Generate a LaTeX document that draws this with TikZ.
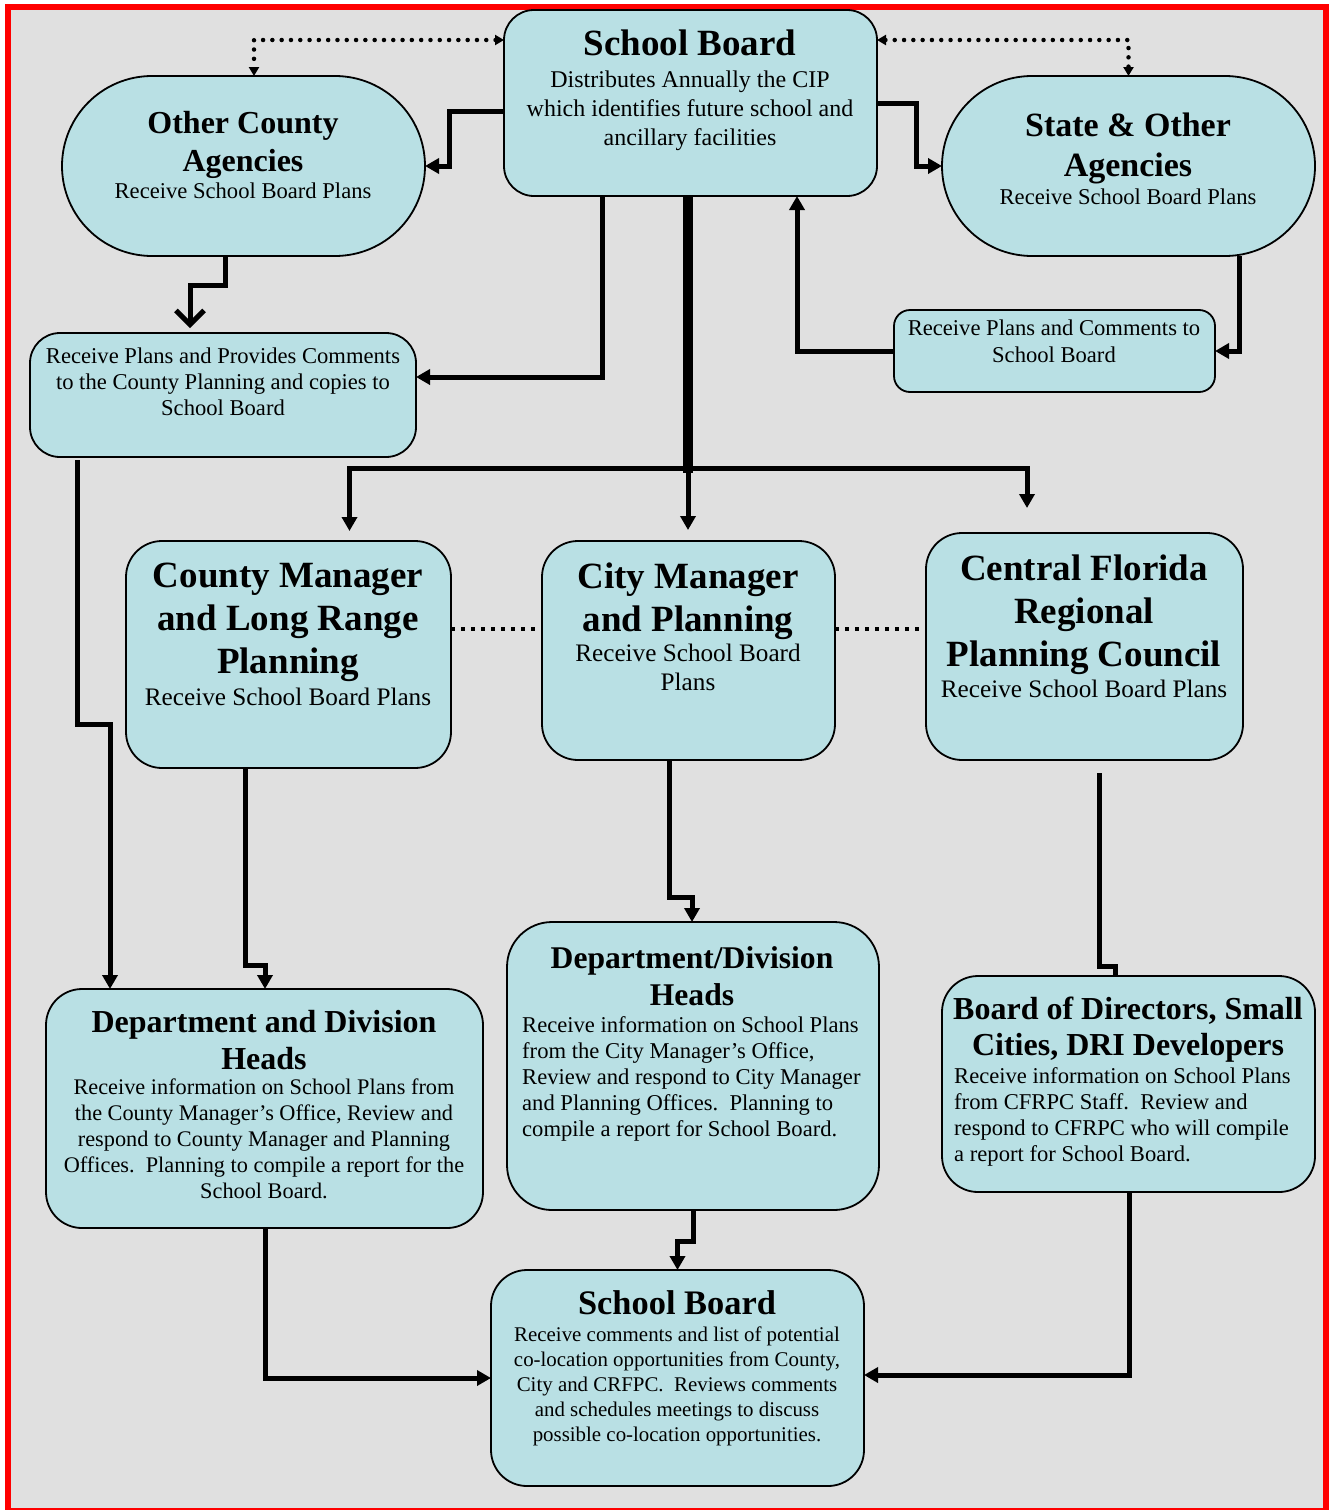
\documentclass[tikz,border=0pt]{standalone}
\usepackage{fontspec}
\setmainfont{Liberation Serif}
\usetikzlibrary{arrows.meta,calc}
\definecolor{boxfill}{RGB}{185,224,228}
\definecolor{bggray}{RGB}{224,224,224}
\begin{document}
\begin{tikzpicture}[x=1pt,y=-1pt,
  box/.style={draw=black, line width=1.8pt, fill=boxfill, anchor=north west, inner sep=0pt, outer sep=0pt},
  ttl/.style={align=center, inner sep=0pt, anchor=north},
  bdy/.style={align=center, inner sep=0pt, anchor=north},
  bdyl/.style={align=left, inner sep=0pt, anchor=north west},
  conn/.style={line width=5pt, -{Triangle[width=15pt,length=14pt]}},
  plain/.style={line width=5pt},
  trunk/.style={line width=10pt},
  varr/.style={line width=5pt, -{Straight Barb[width=28pt,length=14pt]}},
  dotarr/.style={line width=4.5pt, dash pattern=on 0pt off 9.3pt, line cap=round,
    {Triangle[width=10pt,length=9pt]}-{Triangle[width=10pt,length=9pt]}},
  dotline/.style={line width=4pt, dash pattern=on 4pt off 6pt}
]
\useasboundingbox (0,0) rectangle (1328,1510);
\fill[white] (0,0) rectangle (1328,1510);
\fill[bggray] (8,7) rectangle (1326,1511);
\draw[red, line width=6pt] (8,7) rectangle (1326,1511);

% boxes
\node[box, rounded corners=30pt, minimum width=373pt, minimum height=186pt] (sb1) at (504,10) {};
\node[box, rounded corners=90pt, minimum width=363pt, minimum height=180pt] (oca) at (62,76) {};
\node[box, rounded corners=90pt, minimum width=373pt, minimum height=180pt] (soa) at (942,76) {};
\node[box, rounded corners=30pt, minimum width=386pt, minimum height=124pt] (rpc) at (30,333) {};
\node[box, rounded corners=16pt, minimum width=321pt, minimum height=82pt] (rpcs) at (894,310) {};
\node[box, rounded corners=36pt, minimum width=325pt, minimum height=227pt] (cm) at (126,541) {};
\node[box, rounded corners=36pt, minimum width=293pt, minimum height=219pt] (cim) at (542,541) {};
\node[box, rounded corners=36pt, minimum width=317pt, minimum height=227pt] (cf) at (926,533) {};
\node[box, rounded corners=36pt, minimum width=437pt, minimum height=239pt] (ddh) at (46,989) {};
\node[box, rounded corners=45pt, minimum width=372pt, minimum height=288pt] (dd2) at (507,922) {};
\node[box, rounded corners=36pt, minimum width=373pt, minimum height=216pt] (bod) at (942,976) {};
\node[box, rounded corners=36pt, minimum width=373pt, minimum height=216pt] (sb2) at (491,1270) {};

% texts
\node[ttl, font=\fontsize{37}{43}\selectfont\bfseries] (sb1t) at (690,30) {School Board};
\node[bdy, font=\fontsize{24}{29}\selectfont] (sb1b) at (690,70.6) {Distributes Annually the CIP\\which identifies future school and\\ancillary facilities};

\node[ttl, font=\fontsize{32}{38}\selectfont\bfseries] (ocat) at (243,111) {Other County\\Agencies};
\node[bdy, font=\fontsize{22.6}{26}\selectfont] (ocab) at (243,183) {Receive School Board Plans};

\node[ttl, font=\fontsize{34}{40}\selectfont\bfseries] (soat) at (1128,113) {State \& Other\\Agencies};
\node[bdy, font=\fontsize{22.6}{26}\selectfont] (soab) at (1128,189) {Receive School Board Plans};

\node[bdy, font=\fontsize{22.6}{26}\selectfont] (rpcb) at (223,348) {Receive Plans and Provides Comments\\to the County Planning and copies to\\School Board};
\node[bdy, font=\fontsize{22.6}{27}\selectfont] (rpcsb) at (1054,320) {Receive Plans and Comments to\\School Board};

\node[ttl, font=\fontsize{37}{43}\selectfont\bfseries] (cmt) at (288,563) {County Manager\\and Long Range\\Planning};
\node[bdy, font=\fontsize{25.2}{29}\selectfont] (cmb) at (288,688) {Receive School Board Plans};

\node[ttl, font=\fontsize{37}{43}\selectfont\bfseries] (cimt) at (688,563) {City Manager\\and Planning};
\node[bdy, font=\fontsize{25.2}{29}\selectfont] (cimb) at (688,644) {Receive School Board\\Plans};

\node[ttl, font=\fontsize{37}{43}\selectfont\bfseries] (cft) at (1084,555) {Central Florida\\Regional\\Planning Council};
\node[bdy, font=\fontsize{25.2}{29}\selectfont] (cfb) at (1084,680) {Receive School Board Plans};

\node[ttl, font=\fontsize{32}{37}\selectfont\bfseries] (ddht) at (264,1010) {Department and Division\\Heads};
\node[bdy, font=\fontsize{22.3}{26}\selectfont] (ddhb) at (264,1079) {Receive information on School Plans from\\the County Manager’s Office, Review and\\respond to County Manager and Planning\\Offices.\ \ Planning to compile a report for the\\School Board.};

\node[ttl, font=\fontsize{31.6}{37}\selectfont\bfseries] (dd2t) at (692,946) {Department/Division\\Heads};
\node[bdyl, font=\fontsize{22.6}{26}\selectfont] (dd2b) at (522,1016) {Receive information on School Plans\\from the City Manager’s Office,\\Review and respond to City Manager\\and Planning Offices.\ \ Planning to\\compile a report for School Board.};

\node[ttl, font=\fontsize{32}{36}\selectfont\bfseries] (bodt) at (1128,997) {Board of Directors, Small\\Cities, DRI Developers};
\node[bdyl, font=\fontsize{22.6}{26}\selectfont] (bodb) at (954,1067) {Receive information on School Plans\\from CFRPC Staff.\ \ Review and\\respond to CFRPC who will compile\\a report for School Board.};

\node[ttl, font=\fontsize{34.4}{40}\selectfont\bfseries] (sb2t) at (677,1290) {School Board};
\node[bdy, font=\fontsize{20.9}{25}\selectfont] (sb2b) at (677,1327) {Receive comments and list of potential\\co-location opportunities from County,\\City and CRFPC.\ \ Reviews comments\\and schedules meetings to discuss\\possible co-location opportunities.};

% dotted connectors
\draw[dotarr] ($(sb1.north west)+(0,30)$) -| ($(oca.north)+(10.5,0)$);
\draw[dotarr] ($(sb1.north east)+(0,30)$) -| (soa.north);
\draw[dotline] ($(cm.east)+(0,-25.5)$) -- ($(cim.west)+(0,-21.5)$);
\draw[dotline] ($(cim.east)+(0,-21.5)$) -- ($(cf.west)+(0,-17.5)$);

% solid connectors from top School Board
\draw[conn] ($(sb1.west)+(0,8)$) -| ($(oca.east)+(24,0)$) -- (oca.east);
\draw[conn] (sb1.east) -| ($(soa.west)+(-26,0)$) -- (soa.west);
\draw[varr, shorten >=5pt] ($(oca.south)+(-18.5,0)$) -- ++(0,29) -| ($(rpc.north)+(-33,0)$);
\draw[conn] ($(sb1.south)+(-88.5,0)$) |- ($(rpc.east)+(0,-18)$);
\coordinate (J) at ($(sb1.south)+(-2.5,272)$);
\draw[trunk] ($(sb1.south)+(-2.5,0)$) -- ($(J)+(0,5)$);
\draw[conn] (J) -| ($(cm.north)+(61,-10)$);
\draw[conn] (J) -- ($(J)+(0,62)$);
\draw[conn] (J) -| ($(cf.north)+(-57.5,-25)$);

% State agencies loop
\draw[conn] ($(soa.south)+(110.5,0)$) |- (rpcs.east);
\draw[conn] (rpcs.west) -| ($(sb1.south)+(106.5,0)$);

% down to department heads
\draw[conn] ($(rpc.south)+(-146,3)$) -- ++(0,264) -| ($(ddh.north)+(-154.5,0)$);
\draw[conn] ($(cm.south)+(-43.5,0)$) -- ++(0,197) -| ($(ddh.north)+(0.5,0)$);
\draw[conn] ($(cim.south)+(-19.5,0)$) -- ++(0,137) -| ($(dd2.north)+(-1,0)$);
\draw[plain] ($(cf.south)+(14.5,13)$) -- ++(0,193) -| ($(bod.north)+(-13.5,0)$);

% to bottom School Board
\draw[conn] ($(ddh.south)+(0.5,0)$) |- (sb2.west);
\draw[conn] (dd2.south) -- ++(0,31) -| (sb2.north);
\draw[conn] ($(bod.south)+(1,0)$) |- ($(sb2.east)+(0,-3)$);
\end{tikzpicture}
\end{document}
